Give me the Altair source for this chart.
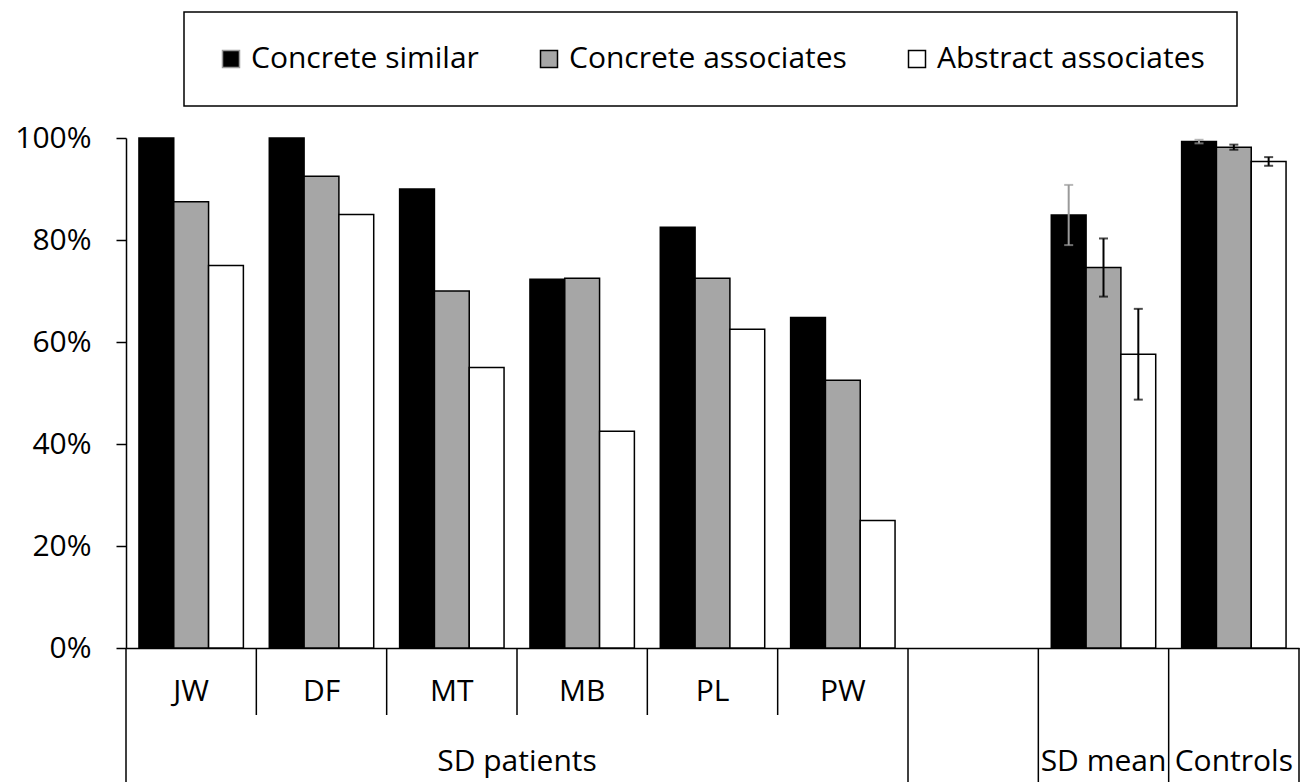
import altair as alt
import pandas as pd

# ---- data ----
categories = ["JW", "DF", "MT", "MB", "PL", "PW", " ", "SD mean", "Controls"]
patients = ["JW", "DF", "MT", "MB", "PL", "PW"]
groups_single = ["SD mean", "Controls"]
series = ["Concrete similar", "Concrete associates", "Abstract associates"]

concrete_similar = [1.00, 1.00, 0.90, 0.723, 0.825, 0.648, None, 0.849, 0.993]
concrete_associates = [0.875, 0.925, 0.70, 0.725, 0.725, 0.525, None, 0.746, 0.982]
abstract_associates = [0.75, 0.85, 0.55, 0.425, 0.625, 0.25, None, 0.576, 0.954]

err_groups = ["SD mean", "Controls"]
err_concrete_similar = [0.059, 0.0035]
err_concrete_associates = [0.057, 0.005]
err_abstract_associates = [0.089, 0.0085]

y_ticks = [0, 0.2, 0.4, 0.6, 0.8, 1.0]

# ---- styles ----
FONT = "Open Sans"
FS = 30
fill_colors = ["#000000", "#a6a6a6", "#ffffff"]
err_colors = ["#9a9a9a", "#000000", "#000000"]

# ---- tables ----
vals = {s: v for s, v in zip(series, [concrete_similar, concrete_associates, abstract_associates])}
rows = []
for s in series:
    for c, v in zip(categories, vals[s]):
        if v is not None:
            rows.append({"cat": c, "series": s, "value": v})
bar_df = pd.DataFrame(rows)

errs = {s: e for s, e in zip(series, [err_concrete_similar, err_concrete_associates, err_abstract_associates])}
erows = []
for s in series:
    for g, e in zip(err_groups, errs[s]):
        v = vals[s][categories.index(g)]
        erows.append({"cat": g, "series": s, "lo": v - e, "hi": v + e})
err_df = pd.DataFrame(erows)

xscale = alt.Scale(domain=categories, paddingInner=0, paddingOuter=0)
offscale = alt.Scale(domain=series, paddingInner=0, paddingOuter=0.372)
yscale = alt.Scale(domain=[0, 1], nice=False)

x_axis = alt.Axis(labels=False, ticks=False, title=None, domain=True,
                  domainColor="black", domainWidth=1.5, grid=False)

W, H = 1173, 510

bars = alt.Chart(bar_df).mark_bar(stroke="black", strokeWidth=1.5).encode(
    x=alt.X("cat:N", scale=xscale, sort=categories, axis=x_axis),
    xOffset=alt.XOffset("series:N", scale=offscale, sort=series),
    y=alt.Y("value:Q", scale=yscale,
            axis=alt.Axis(format=".0%", values=y_ticks, grid=False, title=None,
                          domainColor="black", domainWidth=1.5, tickColor="black",
                          tickWidth=1.5, tickSize=10, labelFont=FONT, labelFontSize=FS,
                          labelColor="black", labelPadding=25)),
    fill=alt.Fill("series:N", scale=alt.Scale(domain=series, range=fill_colors),
                  legend=alt.Legend(title=None, orient="none", legendX=58, legendY=-126,
                                    direction="horizontal", symbolType="square",
                                    symbolSize=289, symbolStrokeColor="black",
                                    symbolStrokeWidth=1.5, labelFont=FONT,
                                    labelFontSize=FS, labelColor="black", labelOffset=5,
                                    columnPadding=55, padding=32, strokeColor="black",
                                    labelLimit=500)),
)

err_color = alt.Color("series:N", scale=alt.Scale(domain=series, range=err_colors), legend=None)

err_rule = alt.Chart(err_df).mark_rule(strokeWidth=2).encode(
    x=alt.X("cat:N", axis=x_axis),
    xOffset=alt.XOffset("series:N"),
    y=alt.Y("lo:Q"),
    y2="hi:Q",
    color=err_color,
)
err_lo = alt.Chart(err_df).mark_tick(thickness=2, size=9).encode(
    x=alt.X("cat:N", axis=x_axis), xOffset=alt.XOffset("series:N"),
    y=alt.Y("lo:Q"), color=err_color)
err_hi = alt.Chart(err_df).mark_tick(thickness=2, size=9).encode(
    x=alt.X("cat:N", axis=x_axis), xOffset=alt.XOffset("series:N"),
    y=alt.Y("hi:Q"), color=err_color)

# ---- two-level category axis ----
short_df = pd.DataFrame({"cat": patients[1:]})
long_df = pd.DataFrame({"cat": [patients[0], " "] + groups_single})
end_df = pd.DataFrame({"cat": [categories[-1]]})

short_sep = alt.Chart(short_df).mark_rule(color="black", strokeWidth=1.5).encode(
    x=alt.X("cat:N", bandPosition=0, axis=x_axis), y=alt.value(H), y2=alt.value(H + 67))
long_sep = alt.Chart(long_df).mark_rule(color="black", strokeWidth=1.5).encode(
    x=alt.X("cat:N", bandPosition=0, axis=x_axis), y=alt.value(H), y2=alt.value(H + 140))
end_sep = alt.Chart(end_df).mark_rule(color="black", strokeWidth=1.5).encode(
    x=alt.X("cat:N", bandPosition=1, axis=x_axis), y=alt.value(H), y2=alt.value(H + 140))

pat_lbl = alt.Chart(pd.DataFrame({"cat": patients})).mark_text(
    font=FONT, fontSize=FS, baseline="middle", color="black").encode(
    x=alt.X("cat:N", axis=x_axis), y=alt.value(H + 44), text="cat:N")

grp_df = pd.DataFrame({"cat": [patients[len(patients) // 2]], "label": ["SD patients"]})
grp_lbl = alt.Chart(grp_df).mark_text(
    font=FONT, fontSize=FS, baseline="middle", color="black").encode(
    x=alt.X("cat:N", bandPosition=0, axis=x_axis), y=alt.value(H + 114), text="label:N")
single_lbl = alt.Chart(pd.DataFrame({"cat": groups_single})).mark_text(
    font=FONT, fontSize=FS, baseline="middle", color="black").encode(
    x=alt.X("cat:N", axis=x_axis), y=alt.value(H + 114), text="cat:N")

chart = alt.layer(
    bars, err_rule, err_lo, err_hi, short_sep, long_sep, end_sep, pat_lbl, grp_lbl, single_lbl
).properties(
    width=W, height=H,
    autosize=alt.AutoSizeParams(type="none"),
    padding={"left": 118, "top": 130, "right": 6, "bottom": 134},
).configure_view(stroke=None).configure_legend(strokeWidth=1.5)

chart.save("out.html", embed_options={"renderer": "svg", "actions": False})
